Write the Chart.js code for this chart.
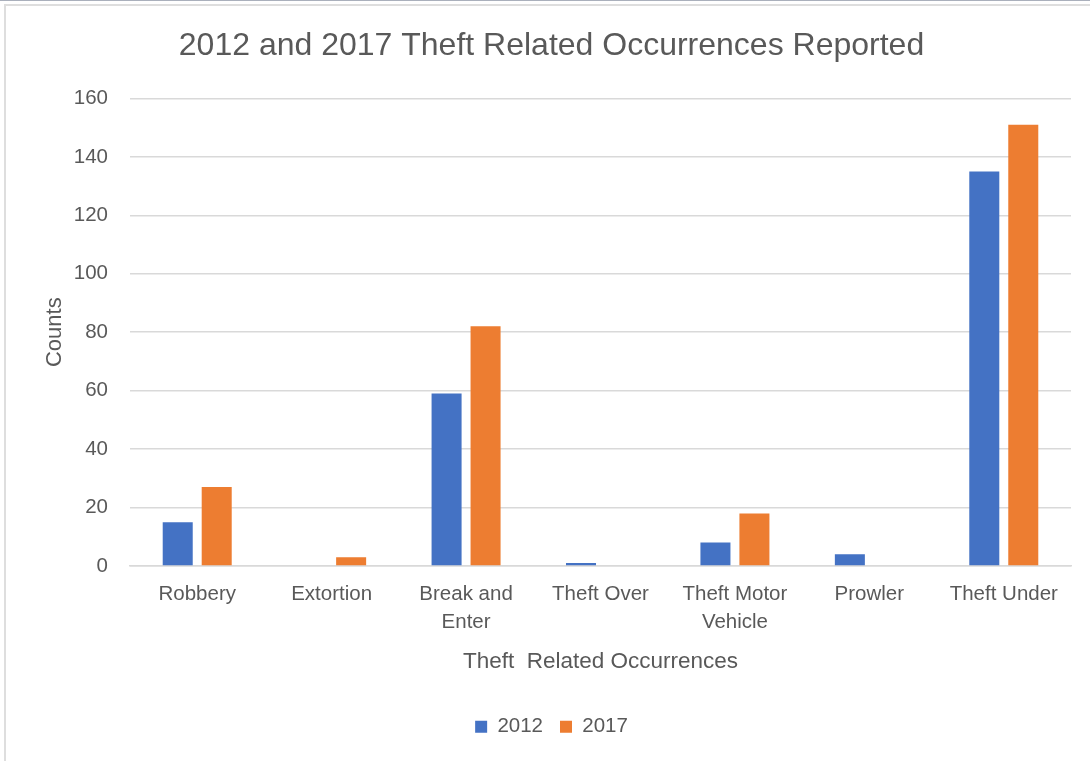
<!DOCTYPE html>
<html>
<head>
<meta charset="utf-8">
<script src="https://cdn.jsdelivr.net/npm/chart.js@4/dist/chart.umd.min.js"></script>
<style>
  html, body { margin: 0; padding: 0; background: #fff; overflow: hidden; }
  #topline { position: absolute; left: 0; top: 0; width: 1090px; height: 1px; background: #aab0bc; }
  #frame { position: absolute; left: 4px; top: 4px; width: 1100px; height: 770px;
           border-left: 2px solid #dedede; border-top: 2px solid #dedede; pointer-events: none; }
  #wrap { position: absolute; left: 0; top: 0; width: 1090px; height: 761px; }
</style>
</head>
<body>
<div id="wrap"><canvas id="theft-chart" width="1090" height="761"></canvas></div>
<div id="topline"></div>
<div id="frame"></div>
<script>
const categories = [
  "Robbery",
  "Extortion",
  ["Break and", "Enter"],
  "Theft Over",
  ["Theft Motor", "Vehicle"],
  "Prowler",
  "Theft Under",
];
const counts2012 = [15, 0, 59, 1, 8, 4, 135];
const counts2017 = [27, 3, 82, 0, 18, 0, 151];
const yTicks = [0, 20, 40, 60, 80, 100, 120, 140, 160];

const FONT = "'Liberation Sans', Arial, sans-serif";
const TEXT = "#595959";
const GRID = "#d9d9d9";

const ctx = document.getElementById("theft-chart").getContext("2d");
const theftChart = new Chart(ctx, {
  type: "bar",
  data: {
    labels: categories,
    datasets: [
      {
        label: "2012",
        data: counts2012,
        backgroundColor: "#4472c4",
        categoryPercentage: 0.58,
        barPercentage: 0.77,
      },
      {
        label: "2017",
        data: counts2017,
        backgroundColor: "#ed7d31",
        categoryPercentage: 0.58,
        barPercentage: 0.77,
      },
    ],
  },
  options: {
    responsive: false,
    animation: false,
    // left padding keeps the title and legend centred on the whole frame
    layout: { padding: { left: 32, right: 19, top: 0, bottom: 14 } },
    plugins: {
      title: {
        display: true,
        text: "2012 and 2017 Theft Related Occurrences Reported",
        color: TEXT,
        font: { family: FONT, size: 32, weight: "normal", lineHeight: 1.2 },
        padding: { top: 27, bottom: 33 },
      },
      legend: {
        position: "bottom",
        labels: {
          color: TEXT,
          font: { family: FONT, size: 20.5 },
          boxWidth: 12,
          boxHeight: 12,
          padding: 17,
        },
      },
      tooltip: { enabled: false },
    },
    scales: {
      x: {
        grid: { display: false, drawTicks: false },
        border: { display: true, color: GRID, width: 1.5 },
        ticks: {
          color: TEXT,
          font: { family: FONT, size: 20.5, lineHeight: 1.37 },
          padding: 14,
          maxRotation: 0,
          autoSkip: false,
        },
        title: {
          display: true,
          text: "Theft  Related Occurrences",
          color: TEXT,
          font: { family: FONT, size: 22.5, lineHeight: 1.2 },
          padding: { top: 0, bottom: 24 },
        },
        afterFit: (scale) => {
          scale.height = 133.5;
        },
      },
      y: {
        min: 0,
        max: 160,
        afterBuildTicks: (scale) => {
          scale.ticks = yTicks.map((v) => ({ value: v }));
        },
        grid: { color: GRID, lineWidth: 1.5, drawTicks: false },
        border: { display: false },
        ticks: {
          color: TEXT,
          font: { family: FONT, size: 20.5 },
          padding: 22,
        },
        title: {
          display: true,
          text: "Counts",
          color: TEXT,
          font: { family: FONT, size: 22, lineHeight: 1.2 },
          padding: { top: 10, bottom: 0 },
        },
        afterFit: (scale) => {
          scale.width = 98;
        },
      },
    },
  },
});
</script>
</body>
</html>
